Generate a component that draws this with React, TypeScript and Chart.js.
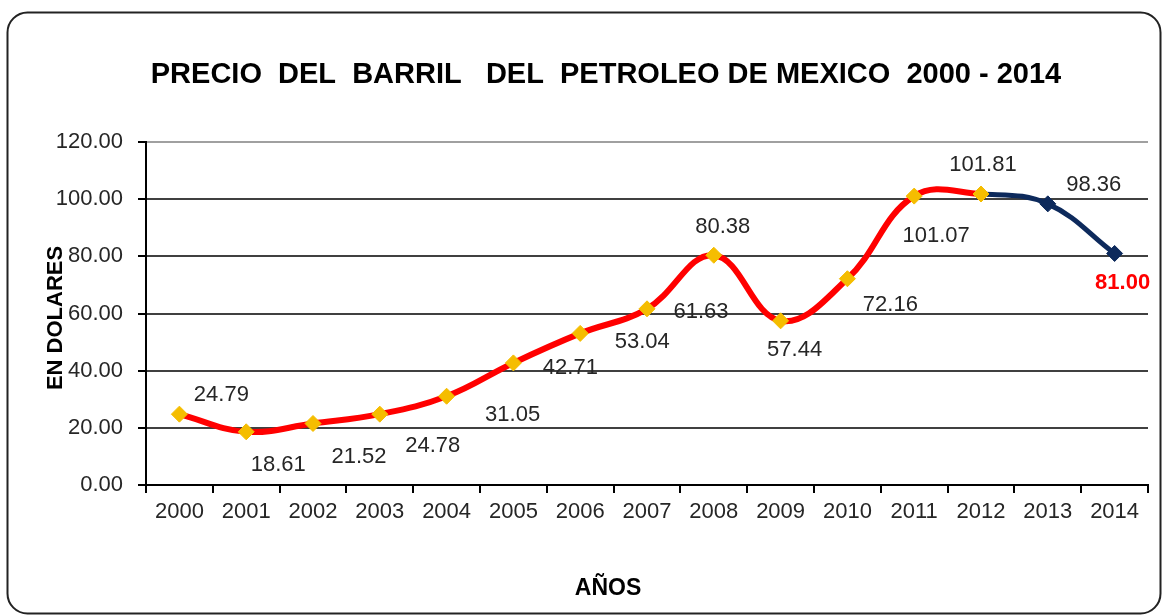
import React, { useEffect, useRef } from "react";
import { Chart, registerables } from "chart.js";

Chart.register(...registerables);

// ---------- data ----------
const YEARS = ["2000", "2001", "2002", "2003", "2004", "2005", "2006", "2007", "2008", "2009", "2010", "2011", "2012", "2013", "2014"];
const PRICES = [24.79, 18.61, 21.52, 24.78, 31.05, 42.71, 53.04, 61.63, 80.38, 57.44, 72.16, 101.07, 101.81, 98.36, 81.0];
const PRICE_LABELS = ["24.79", "18.61", "21.52", "24.78", "31.05", "42.71", "53.04", "61.63", "80.38", "57.44", "72.16", "101.07", "101.81", "98.36", "81.00"];
const Y_MIN = 0;
const Y_MAX = 120;
const Y_STEP = 20;
const TITLE = "PRECIO  DEL  BARRIL   DEL  PETROLEO DE MEXICO  2000 - 2014";
const Y_TITLE = "EN DOLARES";
const X_TITLE = "AÑOS";
const NAVY_FROM_INDEX = 12; // segments from 2012 onward are navy

// ---------- style ----------
const RED = "#ff0000";
const NAVY = "#0d2a5c";
const GOLD = "#f5bd00";
const TEXT = "#262626";
const FONT = "'Liberation Sans', Arial, Helvetica, sans-serif";
const W = 1162;
const H = 616;
// label placement offsets (px) relative to each point
const LABEL_OFFSETS: [number, number][] = [
  [42, -19], [32, 33], [46, 33], [53, 32], [66, 19], [57, 5], [62, 9], [54, 3],
  [9, -28], [14, 29], [43, 26], [22, 40], [2, -29], [46, -19], [8, 29],
];

const framePlugin = {
  id: "frame",
  beforeDraw(chart: any) {
    const ctx = chart.ctx;
    ctx.save();
    ctx.fillStyle = "#ffffff";
    ctx.fillRect(0, 0, W, H);
    ctx.beginPath();
    (ctx as any).roundRect(7.5, 12.5, 1153, 601, 20);
    ctx.lineWidth = 2;
    ctx.strokeStyle = "#222";
    ctx.stroke();
    ctx.restore();
  },
  afterDraw(chart: any) {
    const ctx = chart.ctx;
    ctx.save();
    ctx.fillStyle = "#000";
    ctx.textAlign = "center";
    ctx.textBaseline = "alphabetic";
    ctx.font = `bold 29px ${FONT}`;
    ctx.fillText(TITLE, 606, 83);
    ctx.font = `bold 23px ${FONT}`;
    ctx.fillText(X_TITLE, 608, 595);
    ctx.translate(62, 318);
    ctx.rotate(-Math.PI / 2);
    ctx.font = `bold 22px ${FONT}`;
    ctx.fillText(Y_TITLE, 0, 0);
    ctx.restore();
  },
};

const labelPlugin = {
  id: "pointLabels",
  afterDatasetsDraw(chart: any) {
    const ctx = chart.ctx;
    const meta = chart.getDatasetMeta(0);
    ctx.save();
    ctx.textAlign = "center";
    ctx.textBaseline = "middle";
    meta.data.forEach((pt: any, i: number) => {
      const [dx, dy] = LABEL_OFFSETS[i] || [0, -20];
      const last = i === PRICE_LABELS.length - 1;
      ctx.font = last ? `bold 22px ${FONT}` : `22px ${FONT}`;
      ctx.fillStyle = last ? RED : TEXT;
      ctx.fillText(PRICE_LABELS[i], pt.x + dx, pt.y + dy);
    });
    ctx.restore();
  },
};

export default function App() {
  const ref = useRef<HTMLCanvasElement | null>(null);

  useEffect(() => {
    if (!ref.current) return;
    const chart = new Chart(ref.current, {
      type: "line",
      data: {
        labels: YEARS,
        datasets: [
          {
            data: PRICES,
            borderColor: RED,
            borderWidth: 6,
            tension: 0.4,
            pointStyle: "rectRot",
            pointRadius: 8,
            pointBorderWidth: 1,
            pointBackgroundColor: PRICES.map((_, i) => (i > NAVY_FROM_INDEX ? NAVY : GOLD)),
            pointBorderColor: PRICES.map((_, i) => (i > NAVY_FROM_INDEX ? NAVY : GOLD)),
            segment: {
              borderColor: (c: any) => (c.p0DataIndex >= NAVY_FROM_INDEX ? NAVY : RED),
              borderWidth: (c: any) => (c.p0DataIndex >= NAVY_FROM_INDEX ? 5 : 6),
            },
          },
        ],
      },
      options: {
        animation: false,
        responsive: false,
        devicePixelRatio: 1,
        layout: { padding: { top: 142, right: 14, left: 0, bottom: 0 } },
        plugins: {
          legend: { display: false },
          title: { display: false },
          tooltip: { enabled: false },
        },
        scales: {
          x: {
            type: "category",
            offset: true,
            afterFit: (s: any) => {
              s.height = H - 485;
            },
            border: { display: true, color: "#000", width: 2 },
            grid: {
              offset: true,
              drawTicks: true,
              tickLength: 8,
              tickWidth: 2,
              tickColor: "#000",
              lineWidth: 2,
              color: (c: any) => (c.index === YEARS.length ? "#a0a0a0" : "rgba(0,0,0,0)"),
            },
            ticks: {
              color: TEXT,
              font: { family: FONT, size: 22 },
              padding: 6,
              maxRotation: 0,
              autoSkip: false,
            },
          },
          y: {
            min: Y_MIN,
            max: Y_MAX,
            afterFit: (s: any) => {
              s.width = 146;
            },
            border: { display: true, color: "#000", width: 2 },
            grid: {
              drawTicks: true,
              tickLength: 8,
              tickWidth: 2,
              tickColor: "#000",
              lineWidth: 2,
              color: (c: any) => (c.tick && c.tick.value === Y_MAX ? "#a0a0a0" : "#404040"),
            },
            ticks: {
              stepSize: Y_STEP,
              color: TEXT,
              font: { family: FONT, size: 22 },
              padding: 15,
              callback: (v: any) => Number(v).toFixed(2),
            },
          },
        },
      },
      plugins: [framePlugin, labelPlugin],
    });
    return () => chart.destroy();
  }, []);

  return (
    <div style={{ position: "fixed", left: 0, top: 0, width: W, height: H, background: "#fff" }}>
      <canvas ref={ref} width={W} height={H} style={{ display: "block", width: W, height: H }} />
    </div>
  );
}
